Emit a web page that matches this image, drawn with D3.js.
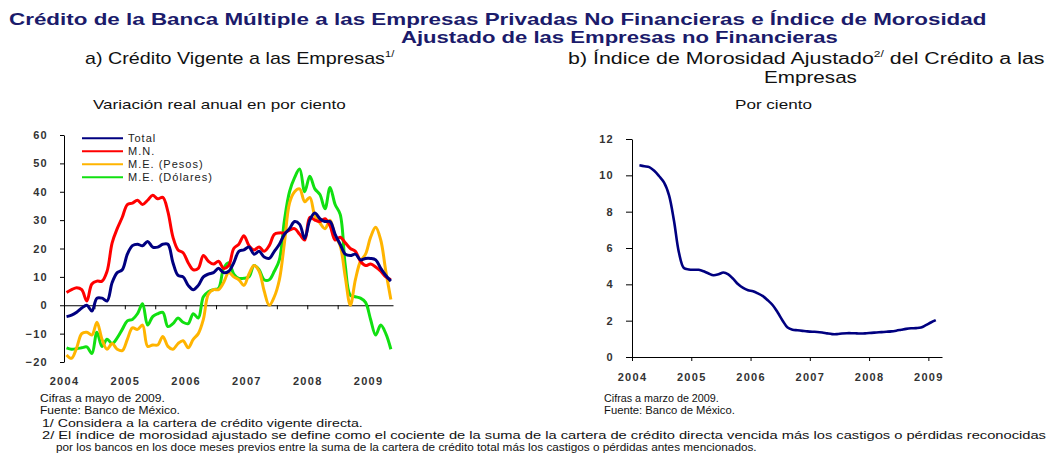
<!DOCTYPE html>
<html>
<head>
<meta charset="utf-8">
<script src="https://cdn.jsdelivr.net/npm/d3@7"></script>
<style>
  body { margin: 0; background: #fff; }
  svg text { font-family: "Liberation Sans", Arial, sans-serif; }
  .tick text { font-size: 11px; font-weight: bold; fill: #333; letter-spacing: 1.3px; }
  .tick line, .domain { stroke: #000; }
</style>
</head>
<body>
<div id="chart"></div>
<script>
// a) Credito vigente: monthly, Jan 2004 - May 2009 (real annual % change)
const total = [-4, -3.5, -2.5, -1, 0, -2, 2.5, 2.5, 1.5, 8, 11.5, 12.5, 18, 21, 21.5, 21, 22.5, 20.5, 20.5, 21.5,
  21.5, 15, 10.5, 10, 7, 5.5, 7, 10, 11, 11.5, 13, 11.5, 12, 15, 19, 19.5, 20.5, 18, 19, 17,
  16.5, 19, 21.5, 25, 27, 29.5, 28.5, 23.5, 30, 32.5, 30.5, 29.5, 29.5, 25, 21.5, 18, 17.5, 18, 16, 16.5,
  16.5, 16, 13, 10.5, 8.5];
const mn = [4.5, 5.5, 6.2, 5.5, 1.5, 7.5, 8.5, 8.5, 12, 22, 27, 31, 35.5, 36, 37, 35.5, 37, 38.8, 37.5, 38,
  33, 24, 19.5, 18.5, 15, 12.5, 13, 17.5, 15.5, 14.5, 15.5, 13, 14, 20, 21.5, 24.5, 21, 19.5, 20.5, 19,
  21, 25, 25.5, 25.5, 26.5, 27, 25, 23, 31, 30, 29.5, 30.5, 28, 23, 24, 22, 20, 19, 15.5, 14,
  14.5, 13.5, 12, 10, 9];
const mePesos = [-17.5, -18.7, -15, -10, -9.5, -10.5, -6, -12, -15.5, -13.5, -15.5, -16, -12, -8, -8.5, -7, -14.5, -14, -14, -11,
  -14.5, -15.5, -13.5, -12.5, -15, -12, -10, -5, 4, 5.5, 5.5, 8, 11.5, 10, 9, 7, 11, 14, 12, 5,
  0, 3, 9, 22, 36, 40, 41, 36.5, 38, 31.5, 29, 27, 30, 24.5, 21, 10, 0, 9, 15.5, 18,
  24, 27.5, 23, 12, 2];
const meDolares = [-15, -15.5, -15.3, -15, -14.7, -17, -9.5, -14.5, -12, -13.5, -11.5, -8.5, -5.5, -5, -3, 0.5, -7, -4, -3, -2.5,
  -7.5, -6.5, -4.5, -6, -6.5, -3, -4.5, 3, 4.8, 5.5, 6, 13, 15, 11, 9.5, 9.5, 10, 14, 12.5, 9,
  9, 12, 16, 30, 40, 45, 48, 40, 45.5, 41, 39, 34, 41.5, 35.5, 32, 14, 3.5, 3, 2.5, 1,
  -5, -10.5, -7, -10, -15.5];

// b) Indice de morosidad ajustado: monthly, Feb 2004 - Feb 2009 (%)
const morosidad = [10.55, 10.5, 10.45, 10.25, 9.95, 9.6, 8.9, 7.5, 5.75, 4.9, 4.82,
  4.8, 4.8, 4.72, 4.6, 4.5, 4.55, 4.65, 4.55, 4.3, 4.0, 3.8, 3.68,
  3.62, 3.5, 3.35, 3.12, 2.85, 2.45, 2.0, 1.62, 1.5, 1.47, 1.44, 1.41,
  1.39, 1.38, 1.35, 1.3, 1.26, 1.26, 1.29, 1.31, 1.31, 1.3, 1.29, 1.31,
  1.33, 1.35, 1.37, 1.39, 1.41, 1.45, 1.5, 1.55, 1.58, 1.59, 1.62, 1.75,
  1.9, 2.03];

const leftYTicks = [-20, -10, 0, 10, 20, 30, 40, 50, 60];
const rightYTicks = [0, 2, 4, 6, 8, 10, 12];
const years = [2004, 2005, 2006, 2007, 2008, 2009];

const seriesA = [
  {name: "Total", values: total, color: "#000080"},
  {name: "M.N.", values: mn, color: "#ff0000"},
  {name: "M.E. (Pesos)", values: mePesos, color: "#ffb400"},
  {name: "M.E. (Dólares)", values: meDolares, color: "#11e011"}
];

const width = 1051, height = 454;

const svg = d3.select("#chart").append("svg")
  .attr("width", width).attr("height", height);

svg.append("rect").attr("width", width).attr("height", height).attr("fill", "#fff");

// stretch a text horizontally so it covers the width it has in the original
function fit(t, w) {
  const b = t.node().getBBox();
  const x0 = b.x;
  t.attr("transform", `translate(${x0},0) scale(${w / b.width},1) translate(${-x0},0)`);
}

function addText(x, y, w, str, size, opts = {}) {
  const t = svg.append("text")
    .attr("x", x).attr("y", y)
    .attr("font-size", size)
    .attr("font-weight", opts.bold ? "bold" : "normal")
    .attr("fill", opts.color || "#111")
    .text(str);
  if (w) fit(t, w);
  return t;
}

/***** HEADER *****/
addText(9, 25, 978, "Crédito de la Banca Múltiple a las Empresas Privadas No Financieras e Índice de Morosidad", 16.5, {bold: true, color: "#1b1b6b"});
addText(401, 43, 437, "Ajustado de las Empresas no Financieras", 16.5, {bold: true, color: "#1b1b6b"});

const subA = svg.append("text").attr("x", 85).attr("y", 64).attr("font-size", 16).attr("fill", "#111");
subA.append("tspan").text("a) Crédito Vigente a las Empresas");
subA.append("tspan").attr("font-size", 9).attr("dy", -7).text("1/");
fit(subA, 310);

const subB = svg.append("text").attr("x", 568).attr("y", 64).attr("font-size", 16).attr("fill", "#111");
subB.append("tspan").text("b) Índice de Morosidad Ajustado");
subB.append("tspan").attr("font-size", 9).attr("dy", -7).text("2/");
subB.append("tspan").attr("dy", 7).text(" del Crédito a las");
fit(subB, 477);
addText(764, 83, 93, "Empresas", 16);

addText(93, 109, 253, "Variación real anual en por ciento", 12.5);
addText(735, 109, 77, "Por ciento", 12.5);

/***** LEFT CHART *****/
const xL = d3.scaleLinear().domain([2004, 2009.41]).range([64, 393]);
const yL = d3.scaleLinear().domain([-20, 60]).range([362, 135]);
const monthA = i => 2004 + (i + 0.5) / 12;

const gL = svg.append("g");

gL.append("g").attr("transform", `translate(${xL(2004)},0)`)
  .call(d3.axisLeft(yL).tickValues(leftYTicks).tickSize(4).tickSizeOuter(0).tickPadding(12));

const halfYears = d3.range(2004, 2009.5, 0.5);
gL.append("g").attr("transform", `translate(0,${yL(0)})`)
  .call(d3.axisBottom(xL).tickValues(halfYears.slice(1)).tickSize(4).tickSizeOuter(0).tickFormat(""));

gL.append("g").attr("transform", `translate(0,${yL(-20)})`)
  .call(d3.axisBottom(xL).tickValues(years).tickSize(0).tickPadding(15).tickFormat(d3.format("d")))
  .call(g => g.select(".domain").remove());

const lineA = d3.line()
  .x((d, i) => xL(monthA(i)))
  .y(d => yL(d))
  .curve(d3.curveCatmullRom.alpha(0.5));

[...seriesA].reverse().forEach(s => {
  gL.append("path")
    .datum(s.values)
    .attr("fill", "none")
    .attr("stroke", s.color)
    .attr("stroke-width", 3)
    .attr("stroke-linejoin", "round")
    .attr("d", lineA);
});

// legend
const legend = gL.append("g");
seriesA.forEach((s, i) => {
  const yy = 138.3 + i * 13;
  legend.append("line")
    .attr("x1", 82).attr("x2", 123).attr("y1", yy).attr("y2", yy)
    .attr("stroke", s.color).attr("stroke-width", 2);
  legend.append("text")
    .attr("x", 128).attr("y", yy + 4)
    .attr("font-size", 11).attr("letter-spacing", "1px").attr("fill", "#222")
    .text(s.name);
});

/***** RIGHT CHART *****/
const xR = d3.scaleLinear().domain([2004, 2009.23]).range([632, 942]);
const yR = d3.scaleLinear().domain([0, 12]).range([357, 139]);
const monthB = i => 2004 + (i + 1.5) / 12;

const gR = svg.append("g");

gR.append("g").attr("transform", `translate(${xR(2004)},0)`)
  .call(d3.axisLeft(yR).tickValues(rightYTicks).tickSize(6).tickSizeOuter(0).tickPadding(12));

gR.append("g").attr("transform", `translate(0,${yR(0)})`)
  .call(d3.axisBottom(xR).tickValues(years).tickSize(4).tickSizeOuter(0).tickPadding(12).tickFormat(d3.format("d")));

gR.append("path")
  .datum(morosidad)
  .attr("fill", "none")
  .attr("stroke", "#000080")
  .attr("stroke-width", 2.6)
  .attr("stroke-linejoin", "round")
  .attr("d", d3.line()
    .x((d, i) => xR(monthB(i)))
    .y(d => yR(d))
    .curve(d3.curveCatmullRom.alpha(0.5)));

/***** FOOTER *****/
addText(40, 402, 125, "Cifras a mayo de 2009.", 10.8);
addText(40, 414.5, 140, "Fuente: Banco de México.", 10.8);
addText(604, 402, 115, "Cifras a marzo de 2009.", 10.8);
addText(604, 414.5, 131, "Fuente: Banco de México.", 10.8);
addText(42, 427, 321, "1/ Considera a la cartera de crédito vigente directa.", 10.8);
addText(42, 439.5, 1006, "2/ El índice de morosidad ajustado se define como el cociente de la suma de la cartera de crédito directa vencida más los castigos o pérdidas reconocidas", 10.8);
addText(56, 451.5, 701, "por los bancos en los doce meses previos entre la suma de la cartera de crédito total más los castigos o pérdidas antes mencionados.", 10.8);
</script>
</body>
</html>
